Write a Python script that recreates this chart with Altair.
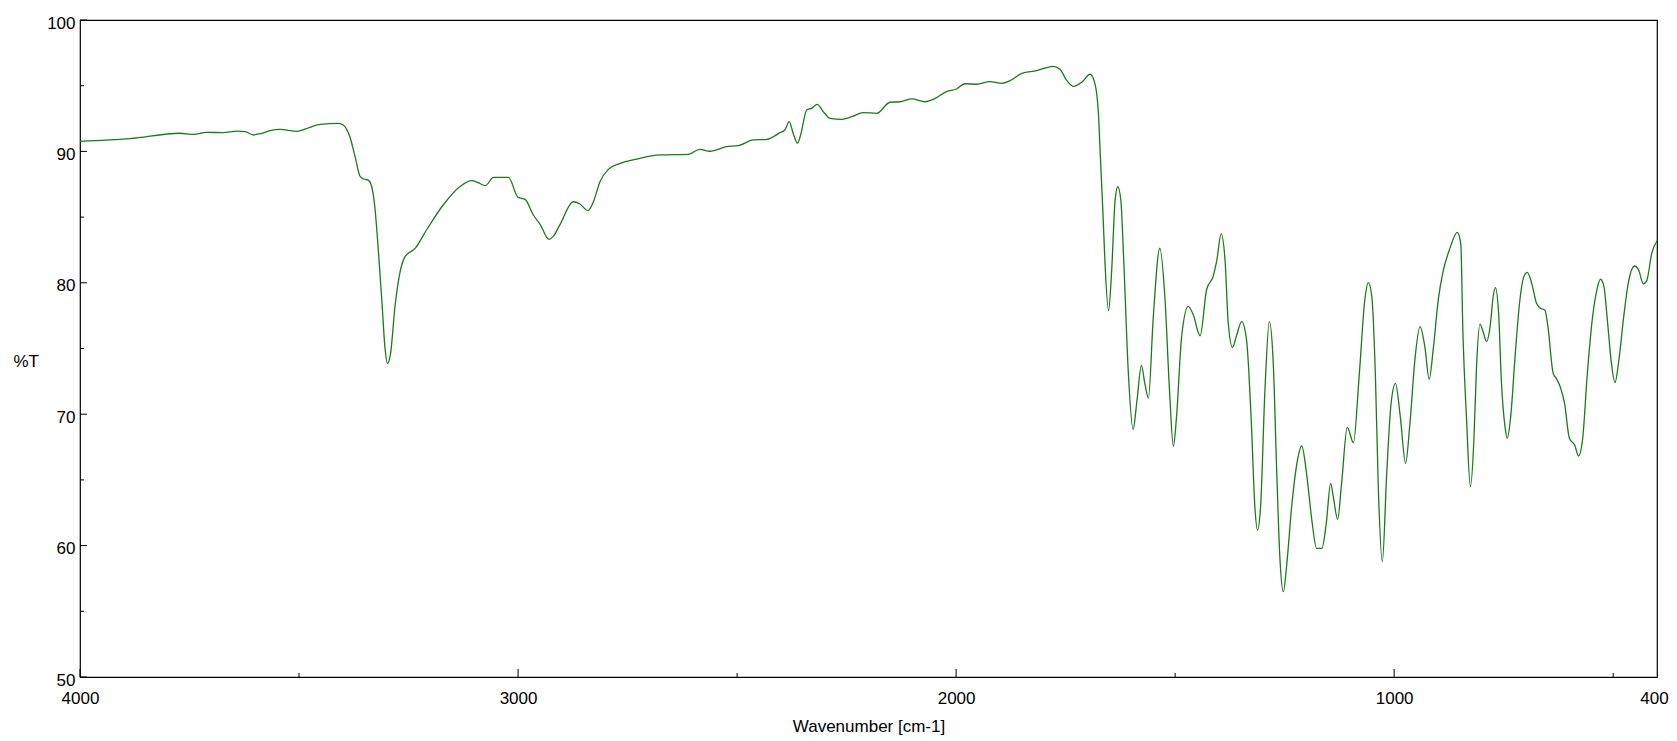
import altair as alt
import pandas as pd

# Spectrum
wavenumber = [
    4000, 3886, 3772, 3741, 3711, 3673, 3642, 3623, 3604, 3585, 3566, 3543, 3505, 3475, 3452,
    3410, 3399, 3384, 3372, 3361, 3353, 3342, 3334, 3327, 3319, 3311, 3304, 3298, 3291, 3281,
    3270, 3258, 3235, 3209, 3171, 3133, 3106, 3091, 3075, 3056, 3022, 3000, 2984, 2965, 2950,
    2929, 2920, 2904, 2874, 2859, 2840, 2828, 2813, 2794, 2767, 2729, 2676, 2611, 2585, 2562,
    2524, 2497, 2463, 2432, 2402, 2391, 2381, 2372, 2362, 2355, 2341, 2330, 2317, 2303, 2288,
    2261, 2238, 2212, 2181, 2151, 2128, 2101, 2071, 2052, 2022, 1999, 1980, 1953, 1923, 1896,
    1877, 1850, 1816, 1786, 1778, 1763, 1748, 1732, 1713, 1694, 1683, 1675, 1671, 1665, 1660,
    1652, 1645, 1637, 1631, 1624, 1617, 1607, 1596, 1587, 1577, 1569, 1561, 1550, 1535, 1523,
    1513, 1504, 1497, 1485, 1470, 1459, 1443, 1428, 1413, 1405, 1395, 1386, 1379, 1369, 1360,
    1348, 1337, 1326, 1318, 1312, 1305, 1295, 1285, 1276, 1268, 1261, 1253, 1245, 1234, 1222,
    1211, 1200, 1188, 1177, 1165, 1155, 1145, 1139, 1129, 1120, 1107, 1093, 1080, 1067, 1059,
    1051, 1043, 1036, 1027, 1017, 1007, 997, 986, 974, 964, 952, 941, 930, 920, 911,
    899, 888, 873, 856, 848, 843, 835, 826, 818, 812, 804, 797, 789, 781, 774,
    769, 762, 755, 747, 742, 734, 724, 713, 704, 696, 686, 675, 666, 656, 649,
    637, 630, 621, 611, 600, 588, 579, 570, 559, 547, 537, 529, 521, 514, 504,
    496, 487, 476, 465, 451, 442, 431, 423, 412, 400,
]
transmittance = [
    90.77, 90.97, 91.38, 91.30, 91.45, 91.43, 91.55, 91.50, 91.25, 91.38, 91.58, 91.68, 91.53, 91.83, 92.06,
    92.14, 92.01, 91.12, 89.60, 88.13, 87.90, 87.82, 87.31, 85.79, 82.50, 78.69, 75.14, 73.87, 74.63, 78.18,
    80.72, 81.99, 82.62, 84.02, 85.92, 87.31, 87.77, 87.62, 87.39, 88.03, 88.03, 86.51, 86.35, 85.16, 84.47,
    83.31, 83.51, 84.45, 86.17, 86.00, 85.49, 86.17, 87.69, 88.63, 89.09, 89.42, 89.73, 89.78, 90.16, 90.01,
    90.36, 90.44, 90.87, 90.92, 91.43, 91.63, 92.26, 91.38, 90.62, 91.25, 93.15, 93.28, 93.58, 93.02, 92.52,
    92.44, 92.64, 92.95, 92.90, 93.74, 93.78, 93.99, 93.78, 93.96, 94.55, 94.75, 95.15, 95.11, 95.31, 95.18,
    95.38, 95.94, 96.14, 96.44, 96.47, 96.25, 95.43, 94.95, 95.27, 95.87, 95.14, 92.82, 89.83, 85.49, 81.41,
    77.88, 80.87, 86.30, 87.31, 86.30, 81.41, 73.26, 68.85, 71.08, 73.71, 72.31, 71.22, 77.33, 82.63, 78.69,
    71.90, 67.55, 69.72, 75.97, 78.20, 77.60, 75.97, 79.51, 80.51, 81.68, 83.72, 81.68, 77.06, 75.08, 75.97,
    77.05, 75.65, 69.31, 62.96, 61.19, 62.96, 71.84, 77.04, 73.87, 65.50, 59.16, 56.49, 58.65, 62.96, 66.26,
    67.58, 65.50, 61.95, 59.79, 59.79, 61.70, 64.74, 63.72, 62.00, 64.74, 69.00, 67.83, 72.86, 78.69, 80.01,
    78.94, 73.11, 64.23, 58.78, 65.50, 70.83, 72.35, 69.81, 66.26, 69.31, 74.38, 76.66, 75.14, 72.66, 74.89,
    78.80, 80.90, 82.60, 83.84, 83.00, 76.16, 69.81, 64.49, 68.04, 73.62, 76.86, 76.28, 75.52, 76.66, 78.94,
    79.63, 77.93, 72.35, 69.05, 68.17, 69.81, 74.38, 78.69, 80.47, 80.80, 79.96, 78.44, 78.06, 77.93, 76.66,
    73.11, 72.73, 72.09, 70.83, 68.17, 67.66, 66.82, 68.04, 73.11, 77.42, 79.50, 80.27, 79.71, 77.42, 73.87,
    72.40, 74.13, 77.42, 80.09, 81.28, 80.97, 79.91, 80.21, 82.24, 83.20,
]

x_label_values = [4000, 3000, 2000, 1000, 400]
x_major_ticks = [4000, 3000, 2000, 1000]
x_minor_ticks = [3500, 2500, 1500, 500]
y_major_ticks = [50, 60, 70, 80, 90, 100]
y_minor_ticks = [55, 65, 75, 85, 95]

W, H = 1577, 657
FONT = "Liberation Sans"

xscale = alt.Scale(domain=[400, 4000], reverse=True, nice=False, zero=False)
yscale = alt.Scale(domain=[50, 100], nice=False, zero=False)

xaxis = alt.Axis(
    values=x_label_values, format="d", title="Wavenumber [cm-1]",
    ticks=False, domain=False, grid=False, labelFlush=False, labelOverlap=False,
    labelOffset={"condition": {"test": "datum.value == 400", "value": -3}, "value": 0},
    labelPadding=13, labelFontSize=17, labelFont=FONT, labelColor="black",
    titleFontSize=17, titleFont=FONT, titleFontWeight="normal", titleColor="black",
    titlePadding=12,
)
yaxis = alt.Axis(
    values=y_major_ticks, format="d", title="%T",
    ticks=False, domain=False, grid=False, labelFlush=False, labelOverlap=False,
    labelPadding=5, labelOffset=3, labelFontSize=17, labelFont=FONT, labelColor="black",
    titleFontSize=17, titleFont=FONT, titleFontWeight="normal", titleColor="black",
    titleAngle=0, titleAlign="left", titleBaseline="middle", titleX=-67, titleY=341,
)

spec = pd.DataFrame({"wn": wavenumber, "t": transmittance})

line = alt.Chart(spec).mark_line(
    color="#1b7a1b", strokeWidth=1.3, interpolate="monotone"
).encode(
    x=alt.X("wn:Q", scale=xscale, axis=xaxis),
    y=alt.Y("t:Q", scale=yscale, axis=yaxis),
)

xmaj = alt.Chart(pd.DataFrame({"wn": x_major_ticks})).mark_rule(color="black", strokeWidth=1).encode(
    x=alt.X("wn:Q", scale=xscale, axis=xaxis), y=alt.value(H), y2=alt.value(H - 8)
)
xmin = alt.Chart(pd.DataFrame({"wn": x_minor_ticks})).mark_rule(color="black", strokeWidth=1).encode(
    x=alt.X("wn:Q", scale=xscale, axis=xaxis), y=alt.value(H), y2=alt.value(H - 4)
)
ymaj = alt.Chart(pd.DataFrame({"t": y_major_ticks})).mark_rule(color="black", strokeWidth=1).encode(
    y=alt.Y("t:Q", scale=yscale, axis=yaxis), x=alt.value(0), x2=alt.value(7)
)
ymin = alt.Chart(pd.DataFrame({"t": y_minor_ticks})).mark_rule(color="black", strokeWidth=1).encode(
    y=alt.Y("t:Q", scale=yscale, axis=yaxis), x=alt.value(0), x2=alt.value(4)
)

chart = alt.layer(line, xmaj, xmin, ymaj, ymin).properties(
    width=W, height=H,
    autosize=alt.AutoSizeParams(type="none"),
    padding={"left": 72, "top": 12, "right": 12, "bottom": 62},
    background="white",
).configure_view(stroke="black", strokeWidth=1.2)

chart.save("out.html", embed_options={"renderer": "svg", "actions": False})
